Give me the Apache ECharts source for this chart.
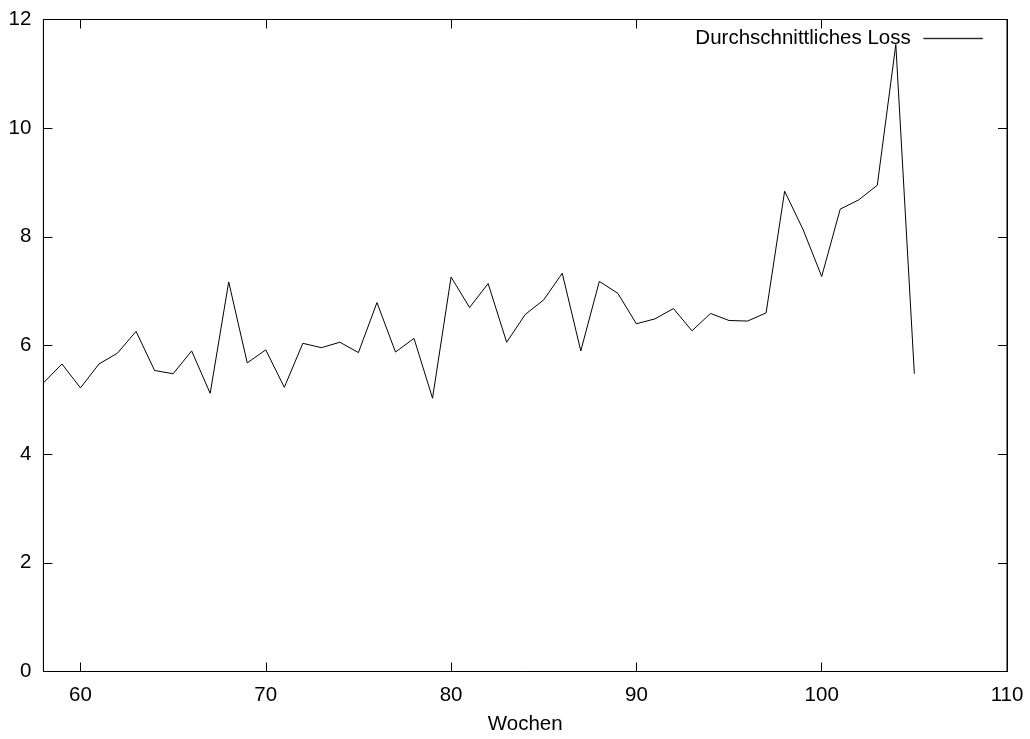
<!DOCTYPE html>
<html>
<head>
<meta charset="utf-8">
<script src="https://cdn.jsdelivr.net/npm/echarts@6/dist/echarts.min.js"></script>
<style>
html,body{margin:0;padding:0;background:#fff;}
#chart{width:1030px;height:739px;}
</style>
</head>
<body>
<div id="chart"></div>
<script>
const weeks = [58,59,60,61,62,63,64,65,66,67,68,69,70,71,72,73,74,75,76,77,78,79,80,81,82,83,84,85,86,87,88,89,90,91,92,93,94,95,96,97,98,99,100,101,102,103,104,105];
const avgLoss = [5.31,5.66,5.22,5.66,5.86,6.26,5.54,5.48,5.90,5.12,7.17,5.68,5.92,5.23,6.04,5.96,6.06,5.87,6.79,5.88,6.13,5.03,7.26,6.70,7.14,6.06,6.57,6.84,7.33,5.90,7.18,6.96,6.40,6.49,6.68,6.27,6.59,6.46,6.45,6.60,8.84,8.13,7.27,8.51,8.68,8.95,11.54,5.48];
const xTicks = [60,70,80,90,100,110];
const seriesName = 'Durchschnittliches Loss';
const xName = 'Wochen';

const font = 'Liberation Sans, Arial, sans-serif';
const chart = echarts.init(document.getElementById('chart'));
const axisLineStyle = {color:'#000', width:1};
chart.setOption({
  animation:false,
  backgroundColor:'#fff',
  textStyle:{fontFamily:font},
  grid:{left:43.4, right:23, top:19.5, bottom:67.5, show:true, borderColor:'#000', borderWidth:1, containLabel:false, outerBoundsMode:'none'},
  legend:{
    data:[{name:seriesName, icon:'path://M0,0H100V1H0Z'}],
    right:47, top:28,
    align:'right',
    itemWidth:59, itemHeight:1,
    itemStyle:{color:'#000', borderColor:'#000', borderWidth:0.6},
    textStyle:{fontSize:20.5, color:'#000', fontFamily:font, padding:[0,8,0,0]},
    padding:0
  },
  xAxis:[{
    type:'value', min:58, max:110, position:'bottom',
    name:xName, nameLocation:'middle', nameGap:42,
    nameTextStyle:{fontSize:20.5, color:'#000', fontFamily:font},
    axisLine:{show:true, onZero:false, lineStyle:axisLineStyle},
    axisTick:{show:true, inside:true, length:9, customValues:xTicks, lineStyle:axisLineStyle},
    axisLabel:{show:true, customValues:xTicks, margin:13, fontSize:20.5, color:'#000', fontFamily:font},
    splitLine:{show:false}
  },{
    type:'value', min:58, max:110, position:'top',
    axisLine:{show:true, onZero:false, lineStyle:axisLineStyle},
    axisTick:{show:true, inside:true, length:9, customValues:xTicks, lineStyle:axisLineStyle},
    axisLabel:{show:false},
    splitLine:{show:false}
  }],
  yAxis:[{
    type:'value', min:0, max:12, interval:2, position:'left',
    axisLine:{show:true, lineStyle:axisLineStyle},
    axisTick:{show:true, inside:true, length:9, lineStyle:axisLineStyle},
    axisLabel:{margin:12, fontSize:20.5, color:'#000', fontFamily:font},
    splitLine:{show:false}
  },{
    type:'value', min:0, max:12, interval:2, position:'right',
    axisLine:{show:true, lineStyle:axisLineStyle},
    axisTick:{show:true, inside:true, length:9, lineStyle:axisLineStyle},
    axisLabel:{show:false},
    splitLine:{show:false}
  }],
  series:[{
    name:seriesName,
    type:'line',
    xAxisIndex:0, yAxisIndex:0,
    data: weeks.map((w,i)=>[w, avgLoss[i]]),
    symbol:'none',
    lineStyle:{color:'#000', width:1},
    itemStyle:{color:'#000'}
  }]
});
</script>
</body>
</html>
